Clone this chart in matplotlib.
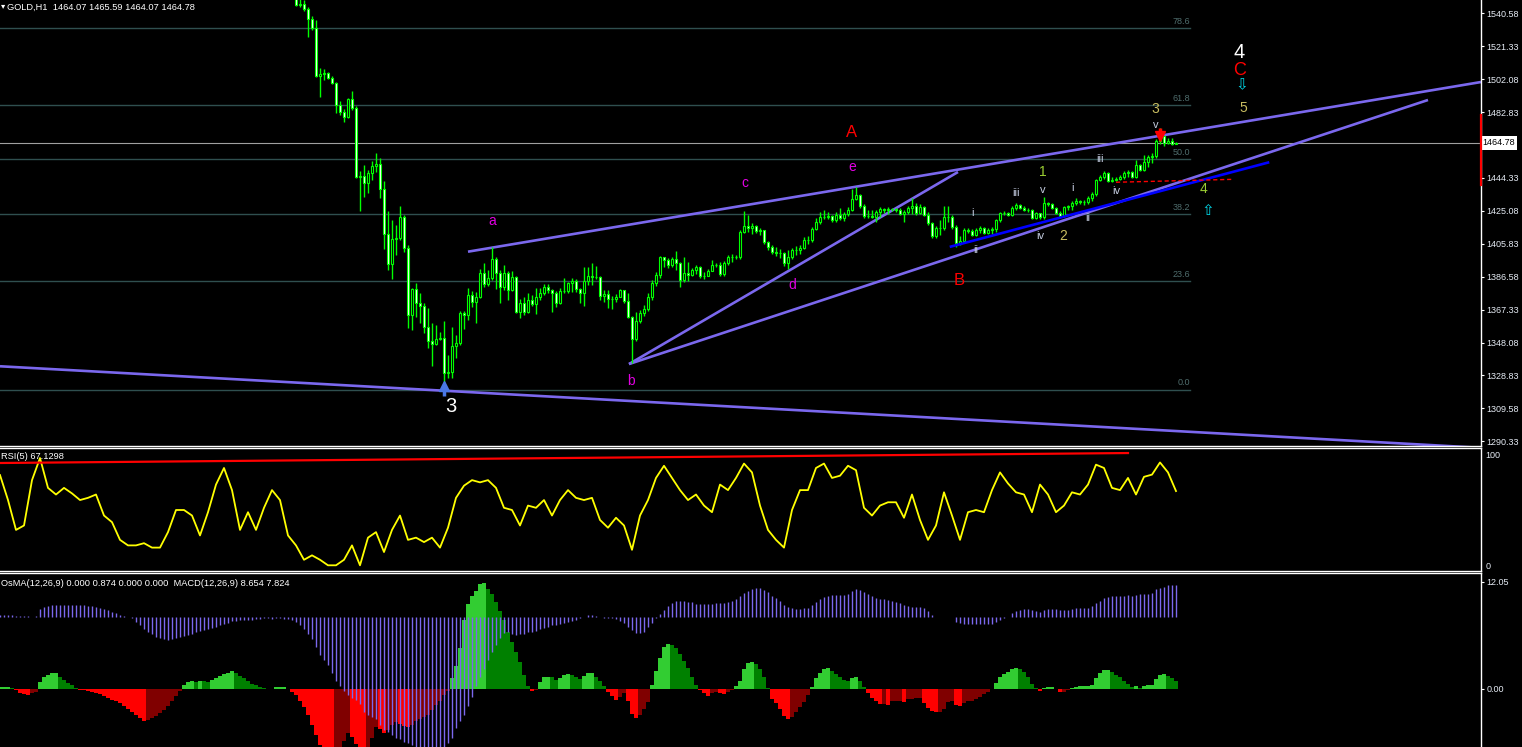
import numpy as np
import matplotlib.pyplot as plt
from matplotlib.transforms import blended_transform_factory

plt.rcParams['font.family'] = ['Liberation Sans', 'DejaVu Sans']

# ---------------- values ----------------
header = "GOLD,H1  1464.07 1465.59 1464.07 1464.78"
rsi_title = "RSI(5) 67.1298"
macd_title = "OsMA(12,26,9) 0.000 0.874 0.000 0.000  MACD(12,26,9) 8.654 7.824"
last_price = 1464.78

# H1 candles visible in the price window (bar index of the first one)
first_bar = 74
first_open = 1551.0
close = [
    1545.5, 1546.1, 1543.1, 1537.3, 1532.0, 1503.9, 1505.1, 1505.7, 1502.8, 1499.8,
    1487.0, 1482.9, 1480.0, 1490.5, 1485.2, 1444.9, 1445.4, 1441.3, 1447.2, 1451.3,
    1452.5, 1437.8, 1411.5, 1393.9, 1408.6, 1409.2, 1421.4, 1403.3, 1364.1, 1379.3,
    1371.2, 1369.4, 1357.1, 1348.9, 1347.2, 1350.1, 1350.7, 1330.2, 1330.8, 1346.0,
    1347.7, 1365.3, 1364.1, 1375.8, 1371.7, 1374.7, 1388.7, 1382.3, 1385.8, 1396.9,
    1388.7, 1380.5, 1388.7, 1378.7, 1386.4, 1365.9, 1371.1, 1365.9, 1372.9, 1370.6,
    1374.7, 1377.0, 1380.5, 1378.7, 1377.0, 1371.1, 1378.2, 1378.2, 1382.8, 1384.0,
    1379.3, 1377.0, 1384.0, 1386.9, 1386.4, 1386.4, 1375.2, 1376.4, 1373.5, 1373.5,
    1374.7, 1378.7, 1372.3, 1363.0, 1350.1, 1360.6, 1365.3, 1367.6, 1374.7, 1382.8,
    1387.5, 1398.1, 1396.3, 1393.4, 1396.9, 1394.5, 1384.6, 1388.7, 1387.5, 1390.4,
    1392.2, 1386.9, 1386.9, 1389.9, 1393.4, 1393.4, 1388.1, 1394.5, 1398.1, 1398.1,
    1398.1, 1412.7, 1416.2, 1415.0, 1416.2, 1413.3, 1413.9, 1406.8, 1403.9, 1401.0,
    1400.4, 1400.4, 1394.5, 1398.1, 1402.2, 1402.2, 1403.3, 1408.0, 1408.0, 1414.4,
    1418.5, 1421.4, 1421.4, 1422.0, 1419.7, 1422.6, 1420.9, 1423.2, 1425.5, 1432.0,
    1434.3, 1427.9, 1422.0, 1422.0, 1421.4, 1424.4, 1426.1, 1425.5, 1426.1, 1426.1,
    1425.5, 1423.2, 1424.4, 1426.7, 1427.9, 1423.8, 1427.3, 1422.6, 1418.0, 1410.3,
    1415.0, 1415.0, 1421.4, 1421.4, 1415.6, 1406.2, 1407.4, 1413.9, 1413.3, 1411.0,
    1413.9, 1415.0, 1412.1, 1413.9, 1414.4, 1419.7, 1423.8, 1423.8, 1422.6, 1426.7,
    1428.5, 1426.7, 1425.5, 1425.5, 1420.9, 1423.8, 1421.4, 1429.6, 1429.1, 1426.7,
    1423.8, 1422.0, 1427.3, 1427.9, 1429.6, 1430.8, 1430.2, 1430.2, 1432.6, 1434.9,
    1443.1, 1444.9, 1447.2, 1442.5, 1443.1, 1443.7, 1444.9, 1447.2, 1447.8, 1444.9,
    1451.9, 1449.0, 1453.6, 1456.6, 1457.1, 1465.9, 1468.8, 1464.7, 1465.9, 1464.07,
    1464.78,
]
high = [
    1551.3, 1550.2, 1548.4, 1544.3, 1539.0, 1536.7, 1508.6, 1508.0, 1506.3, 1503.9,
    1500.4, 1489.3, 1484.6, 1491.1, 1495.2, 1486.4, 1448.4, 1451.9, 1448.9, 1454.2,
    1458.9, 1456.0, 1442.5, 1425.0, 1419.7, 1416.8, 1427.9, 1422.6, 1405.1, 1379.9,
    1382.8, 1377.0, 1371.1, 1368.2, 1359.4, 1358.3, 1354.2, 1360.6, 1340.7, 1357.1,
    1352.4, 1366.5, 1366.5, 1379.9, 1378.2, 1377.6, 1391.0, 1394.5, 1390.4, 1403.9,
    1398.1, 1390.4, 1393.4, 1389.9, 1389.9, 1386.9, 1373.5, 1374.7, 1377.0, 1375.8,
    1379.9, 1379.9, 1382.3, 1382.3, 1379.3, 1378.2, 1379.9, 1385.8, 1383.4, 1385.8,
    1385.2, 1379.9, 1392.2, 1392.2, 1394.5, 1392.8, 1386.9, 1378.7, 1378.7, 1375.2,
    1376.4, 1379.3, 1378.7, 1377.0, 1363.5, 1365.9, 1367.0, 1370.0, 1377.0, 1384.6,
    1389.3, 1398.6, 1398.1, 1397.5, 1398.1, 1401.6, 1395.1, 1398.1, 1395.1, 1391.6,
    1393.4, 1392.8, 1389.3, 1391.0, 1396.3, 1394.5, 1395.1, 1395.7, 1399.2, 1399.8,
    1399.2, 1413.9, 1425.0, 1422.6, 1417.9, 1416.8, 1415.0, 1413.9, 1407.4, 1405.1,
    1403.9, 1402.7, 1401.0, 1402.2, 1403.3, 1404.5, 1405.1, 1409.8, 1410.3, 1415.6,
    1420.9, 1424.4, 1425.5, 1424.4, 1422.6, 1424.4, 1426.7, 1424.4, 1427.3, 1437.8,
    1439.0, 1434.9, 1429.1, 1425.5, 1425.5, 1425.5, 1427.3, 1426.7, 1427.3, 1426.7,
    1426.7, 1426.7, 1425.5, 1427.9, 1432.6, 1429.6, 1429.1, 1427.9, 1424.4, 1418.5,
    1416.2, 1419.7, 1427.9, 1427.9, 1422.6, 1416.8, 1410.3, 1415.0, 1415.0, 1414.4,
    1415.0, 1416.2, 1415.6, 1415.0, 1415.6, 1420.3, 1424.4, 1425.0, 1424.4, 1427.9,
    1429.6, 1429.1, 1427.9, 1426.7, 1426.1, 1424.4, 1423.8, 1433.2, 1430.2, 1429.6,
    1427.3, 1425.0, 1427.9, 1428.5, 1430.8, 1432.6, 1431.4, 1431.4, 1433.7, 1436.1,
    1443.7, 1446.0, 1448.4, 1447.8, 1444.9, 1444.9, 1446.0, 1448.4, 1448.9, 1448.4,
    1454.8, 1452.5, 1457.7, 1457.7, 1458.9, 1467.1, 1473.5, 1466.5, 1467.7, 1467.7,
    1465.59,
]
low = [
    1544.9, 1544.3, 1542.0, 1526.8, 1530.9, 1503.4, 1491.7, 1501.6, 1502.2, 1499.3,
    1482.3, 1481.1, 1477.0, 1479.4, 1484.1, 1444.3, 1425.0, 1433.2, 1435.5, 1443.1,
    1447.8, 1432.6, 1402.8, 1390.4, 1385.2, 1399.2, 1408.0, 1401.0, 1356.5, 1355.3,
    1363.0, 1359.4, 1353.6, 1344.8, 1334.3, 1346.6, 1349.5, 1320.8, 1327.3, 1327.3,
    1339.0, 1346.6, 1355.9, 1361.2, 1368.8, 1359.4, 1374.1, 1380.5, 1381.1, 1384.6,
    1379.3, 1371.1, 1378.7, 1372.9, 1378.2, 1365.3, 1362.4, 1364.1, 1365.3, 1369.4,
    1364.7, 1372.9, 1375.8, 1377.0, 1365.9, 1368.8, 1370.6, 1377.0, 1377.0, 1377.6,
    1377.6, 1371.1, 1369.4, 1381.7, 1381.7, 1385.2, 1372.9, 1371.7, 1368.2, 1367.6,
    1371.7, 1374.7, 1371.1, 1362.4, 1336.0, 1348.9, 1359.4, 1363.5, 1366.5, 1372.9,
    1381.1, 1385.8, 1392.2, 1391.6, 1392.2, 1390.4, 1380.5, 1383.4, 1384.0, 1386.9,
    1388.1, 1385.8, 1385.2, 1387.5, 1392.2, 1392.2, 1386.9, 1386.9, 1393.4, 1395.1,
    1396.9, 1396.9, 1412.1, 1412.7, 1411.5, 1412.1, 1410.9, 1405.7, 1402.2, 1399.8,
    1398.6, 1397.5, 1392.8, 1391.0, 1396.9, 1399.2, 1399.8, 1402.8, 1405.7, 1406.8,
    1413.9, 1417.4, 1420.3, 1420.3, 1418.5, 1418.5, 1419.7, 1419.1, 1422.0, 1425.0,
    1431.4, 1426.7, 1420.9, 1420.9, 1420.9, 1418.5, 1421.4, 1423.8, 1423.2, 1425.0,
    1424.4, 1422.6, 1418.5, 1423.2, 1423.2, 1422.6, 1423.2, 1422.0, 1416.8, 1409.2,
    1409.2, 1410.9, 1413.9, 1418.5, 1414.4, 1403.9, 1405.1, 1407.4, 1412.1, 1410.3,
    1410.3, 1412.1, 1411.5, 1411.5, 1411.5, 1412.7, 1418.5, 1422.6, 1422.0, 1422.0,
    1425.5, 1426.1, 1425.0, 1424.4, 1420.3, 1420.3, 1420.3, 1420.3, 1427.9, 1426.1,
    1423.2, 1421.4, 1421.4, 1425.5, 1425.5, 1428.5, 1429.1, 1428.5, 1429.1, 1430.8,
    1433.7, 1442.5, 1443.7, 1441.9, 1441.9, 1442.5, 1443.1, 1443.7, 1444.9, 1444.3,
    1444.3, 1448.4, 1448.4, 1450.7, 1453.0, 1456.0, 1464.2, 1463.0, 1464.2, 1463.6,
    1464.07,
]

price_ticks = [1540.58, 1521.33, 1502.08, 1482.83, 1444.33, 1425.08, 1405.83,
               1386.58, 1367.33, 1348.08, 1328.83, 1309.58, 1290.33]

fib_low, fib_high = 1320.6, 1589.8
fib_levels = [0.0, 23.6, 38.2, 50.0, 61.8, 78.6]

# trend lines as (bar0, price0, bar1, price1)
purple_lines = [
    (0, 1334.2, 370.25, 1286.5),
    (117, 1401.2, 370.25, 1500.4),
    (157.25, 1335.5, 239.5, 1447.8),
    (157.25, 1335.5, 357, 1489.9),
]
blue_line = (237.75, 1404.2, 317, 1453.3)
red_dash_line = (279, 1441.8, 308.25, 1443.5)

# wave labels as (text, bar, price)
big_labels = [("3", 112.75, 1310.4), ("4", 309.75, 1517.4)]
abc_labels = [("A", 213, 1470.6), ("B", 239.75, 1384.6), ("C", 310, 1506.9)]
abcde_labels = [("a", 123, 1419.1), ("b", 157.75, 1325.6), ("c", 186.25, 1441.4),
                ("d", 198, 1381.7), ("e", 213, 1450.7)]
impulse_labels = [("1", 260.75, 1447.8), ("2", 265.75, 1410.4), ("3", 288.75, 1484.6),
                  ("4", 300.75, 1437.9), ("5", 310.75, 1485.2)]
minor_labels = [("i", 243, 1423.8), ("ii", 244, 1402.2), ("iii", 254, 1435.5),
                ("iv", 260, 1410.4), ("v", 260.75, 1437.3), ("i", 268, 1438.4),
                ("ii", 272, 1420.9), ("iii", 275, 1455.4), ("iv", 279, 1436.7),
                ("v", 289, 1475.3)]

# RSI(5), read every second bar starting at bar 0
rsi_every2 = [
    81.6, 59, 32, 36, 77, 97, 70, 64, 70, 65,
    59, 61, 64, 45, 39, 23, 18, 18, 20, 16,
    16, 30, 50, 50, 45, 27, 48, 73, 88, 68,
    32, 48, 32, 52, 68, 59, 27, 18, 5, 9,
    5, 0, 0, 5, 18, 0, 25, 30, 12, 32,
    45, 23, 25, 21, 25, 16, 34, 61, 72, 77,
    75, 77, 70, 52, 50, 36, 54, 52, 59, 45,
    59, 68, 61, 59, 61, 41, 34, 43, 36, 14,
    45, 59, 79, 90, 79, 68, 59, 64, 54, 48,
    73, 68, 79, 92, 84, 54, 32, 23, 16, 50,
    68, 68, 88, 92, 79, 81, 90, 86, 52, 45,
    54, 57, 57, 43, 64, 41, 23, 36, 66, 45,
    23, 48, 50, 48, 68, 84, 74, 66, 64, 48,
    73, 64, 48, 54, 66, 64, 73, 91, 88, 70,
    68, 79, 64, 80, 82, 93, 84, 67.13,
]
rsi_trend = (0, 92.5, 282, 101.5)

osma = [
    0.2, 0.2, 0.2, 0.15, -0.1, -0.4, -0.6, -0.7, -0.4, -0.3,
    0.8, 1.3, 1.6, 1.8, 1.8, 1.4, 1.0, 0.7, 0.4, 0.1,
    -0.1, -0.15, -0.2, -0.3, -0.45, -0.6, -0.8, -1.05, -1.25, -1.4,
    -1.6, -1.9, -2.3, -2.6, -2.9, -3.3, -3.6, -3.5, -3.3, -3.0,
    -2.7, -2.4, -1.9, -1.4, -0.8, -0.2, 0.45, 0.8, 0.9, 0.8,
    0.9, 0.85, 0.8, 1.05, 1.2, 1.45, 1.65, 1.8, 2.0, 1.85,
    1.5, 1.2, 0.9, 0.6, 0.4, 0.2, 0.08, 0.05, 0.05, 0.2,
    0.2, 0.2, 0.05, -0.3, -0.7, -1.3, -2.0, -2.9, -4.0, -5.2,
    -6.3, -7.0, -7.5, -7.8, -7.0, -6.5, -5.8, -5.0, -5.4, -6.2,
    -7.0, -7.2, -6.5, -5.5, -4.3, -4.5, -5.0, -4.6, -4.0, -3.7,
    -3.9, -4.2, -4.3, -4.0, -3.6, -3.4, -3.2, -2.9, -2.4, -1.8,
    -1.3, -0.7, -0.25, 1.2, 2.6, 4.6, 7.8, 9.6, 10.5, 11.0,
    11.8, 11.9, 11.3, 10.7, 9.8, 8.8, 7.8, 6.4, 5.3, 4.2,
    3.0, 1.6, 0.3, -0.2, -0.15, 0.8, 1.4, 1.4, 1.3, 1.0,
    1.2, 1.6, 1.7, 1.6, 1.3, 1.1, 1.5, 1.8, 1.8, 1.4,
    0.9, 0.3, -0.3, -0.8, -1.2, -0.9, -0.5, -1.4, -2.8, -3.3,
    -2.9, -2.3, -1.5, 0.5, 2.0, 3.5, 4.7, 5.1, 5.0, 4.6,
    3.9, 3.2, 2.4, 1.3, 0.4, -0.1, -0.5, -0.8, -0.4, -0.35,
    -0.5, -0.6, -0.3, -0.1, 0.3, 0.9, 2.2, 2.9, 3.0, 2.8,
    2.3, 1.4, 0.1, -1.1, -1.6, -2.2, -3.0, -3.4, -3.1, -2.6,
    -2.0, -1.5, -0.7, 0.2, 1.2, 1.8, 2.3, 2.4, 2.0, 1.7,
    1.4, 1.0, 0.9, 1.2, 1.3, 0.9, 0.2, -0.4, -1.0, -1.4,
    -1.7, -1.7, -1.75, -1.4, -1.3, -1.3, -1.5, -1.1, -1.1, -1.05,
    -1.0, -1.6, -2.1, -2.5, -2.6, -2.6, -2.2, -1.5, -1.4, -1.8,
    -1.9, -1.6, -1.4, -1.3, -1.1, -0.9, -0.6, -0.3, 0.05, 0.7,
    1.4, 1.7, 1.9, 2.2, 2.4, 2.3, 1.9, 1.3, 0.6, 0.1,
    -0.2, 0.1, 0.2, 0.2, 0.05, -0.3, -0.3, -0.1, 0.1, 0.2,
    0.3, 0.3, 0.3, 0.5, 1.2, 1.8, 2.1, 2.1, 1.9, 1.6,
    1.3, 0.95, 0.6, 0.2, 0.3, 0.15, 0.3, 0.4, 0.5, 1.1,
    1.6, 1.65, 1.5, 1.2, 0.874,
]
macd = [
    0.6, 0.6, 0.5, 0.5, 0.4, 0.4, 0.3, 0.3, 0.2, 0.3,
    2.3, 2.8, 3.0, 3.2, 3.3, 3.3, 3.3, 3.3, 3.3, 3.3,
    3.2, 3.2, 3.1, 3.0, 2.8, 2.6, 2.3, 1.9, 1.5, 1.1,
    0.7, 0.4, 0.1, -0.3, -1.2, -2.2, -3.1, -3.9, -4.6, -5.2,
    -5.7, -6.0, -6.1, -5.9, -5.6, -5.3, -5.0, -4.7, -4.4, -4.1,
    -3.8, -3.5, -3.2, -2.9, -2.5, -2.1, -1.8, -1.5, -1.1, -0.9,
    -0.8, -0.7, -0.6, -0.6, -0.5, -0.4, -0.3, -0.3, -0.4, -0.3,
    -0.3, -0.4, -0.5, -0.8, -1.3, -2.2, -3.2, -4.5, -6.0, -8.0,
    -10.2, -11.6, -12.8, -15.0, -17.2, -18.6, -19.8, -21.0, -21.8, -22.3,
    -23.5, -25.5, -26.4, -27.0, -27.5, -29.0, -30.5, -31.0, -31.8, -32.5,
    -33.0, -33.6, -34.0, -34.5, -35.0, -35.5, -36.0, -36.0, -36.0, -36.0,
    -36.0, -35.0, -34.0, -32.5, -30.0, -28.0, -26.5, -24.0, -21.5, -18.5,
    -16.0, -14.0, -11.5, -9.3, -7.5, -5.6, -4.2, -4.0, -4.5, -4.8,
    -4.6, -4.4, -4.1, -3.9, -3.6, -3.2, -2.9, -2.6, -2.2, -2.0,
    -1.8, -1.5, -1.2, -0.9, -0.6, -0.3, 0.2, 0.5, 0.6, 0.4,
    0.1, -0.1, -0.2, -0.2, -0.5, -1.0, -1.5, -2.5, -3.5, -4.2,
    -4.3, -3.9, -2.7, -1.5, -0.3, 0.8, 2.0, 3.0, 3.8, 4.3,
    4.4, 4.3, 4.2, 4.0, 3.7, 3.6, 3.5, 3.6, 3.7, 3.8,
    3.9, 3.9, 4.0, 4.3, 5.0, 5.8, 6.6, 7.2, 7.6, 7.9,
    7.8, 7.3, 6.8, 5.8, 5.2, 4.4, 3.3, 2.8, 2.4, 2.2,
    2.2, 2.4, 2.6, 3.3, 4.0, 4.9, 5.5, 5.8, 6.0, 6.0,
    6.0, 6.1, 6.4, 7.1, 7.6, 7.3, 6.8, 6.2, 5.7, 5.3,
    4.9, 4.9, 4.6, 4.4, 4.0, 3.8, 3.3, 3.0, 2.9, 2.8,
    2.7, 2.4, 1.7, 0.6, 0.2, 0.2, 0.1, 0.0, 0.05, -1.2,
    -1.6, -1.7, -1.7, -1.9, -1.7, -1.7, -1.7, -1.7, -1.7, -1.2,
    -0.6, -0.3, 0.2, 1.1, 1.7, 2.0, 2.2, 2.2, 1.9, 1.8,
    1.5, 1.9, 2.2, 2.2, 2.2, 1.9, 2.0, 2.0, 2.2, 2.4,
    2.5, 2.5, 2.5, 3.1, 3.8, 4.4, 5.1, 5.4, 5.7, 5.7,
    5.7, 5.7, 6.0, 5.8, 6.0, 6.2, 6.3, 6.4, 6.6, 7.6,
    8.0, 8.3, 8.7, 8.7, 8.654,
]

# ---------------- layout (pixel boxes of the 1522x747 window) ----------------
W, H = 1522, 747
fig = plt.figure(figsize=(W / 100, H / 100), dpi=100, facecolor='black')


def box(x0, y0, x1, y1):
    return [x0 / W, 1 - y1 / H, (x1 - x0) / W, (y1 - y0) / H]


ax = fig.add_axes(box(0, 0, 1481, 446))
ax_rsi = fig.add_axes(box(0, 448, 1481, 571), sharex=ax)
ax_osma = fig.add_axes(box(0, 573, 1481, 747), sharex=ax)
ax_macd = ax_osma.twinx()

label_col = '#e6ecf5'
for a in (ax, ax_rsi, ax_osma):
    a.set_facecolor('black')
    for s in a.spines.values():
        s.set_color('white')
        s.set_linewidth(1)
    a.spines['left'].set_visible(False)
    a.yaxis.tick_right()
    a.tick_params(axis='y', colors='white', labelcolor=label_col, labelsize=6.5,
                  length=2.2, width=0.8, pad=1.5)
    a.tick_params(axis='x', bottom=False, labelbottom=False)
ax.spines['top'].set_visible(False)
ax_osma.spines['bottom'].set_visible(False)
for s in ax_macd.spines.values():
    s.set_visible(False)
ax_macd.set_yticks([])

ax.set_xlim(0, 1481 / 4)
ax.set_ylim(1287.58, 1548.36)
ax_rsi.set_ylim(-5.15, 106.06)
ax_osma.set_ylim(-6.53, 13.06)
ax_macd.set_ylim(-35.05, 11.97)

# ---------------- price window ----------------
close = np.array(close)
bars = np.arange(first_bar, first_bar + len(close))
opens = np.r_[first_open, close[:-1]]
hi = np.maximum(np.array(high), np.maximum(opens, close))
lo = np.minimum(np.array(low), np.minimum(opens, close))
bull = close >= opens

for lv in fib_levels:
    p = fib_low + (fib_high - fib_low) * lv / 100
    ax.plot([0, 297.5], [p, p], color='#2f4f4f', lw=1, zorder=1)
    ax.text(297.5, p + 1.2, f'{lv:.1f}', ha='right', va='bottom', color='#4f6d6d',
            fontsize=6.5, zorder=1)
ax.axhline(last_price, color='#a0a0a0', lw=0.8, zorder=1)

for x0, y0, x1, y1 in purple_lines:
    ax.plot([x0, x1], [y0, y1], color='#7b68ee', lw=1.9, zorder=2, solid_capstyle='butt')
ax.plot(blue_line[::2], blue_line[1::2], color='#0000ff', lw=1.9, zorder=4)
ax.plot(red_dash_line[::2], red_dash_line[1::2], color='#ff0000', lw=1, ls=(0, (3, 2)), zorder=4)

ax.vlines(bars, lo, hi, color='#00ff00', lw=1, zorder=3)
ax.bar(bars, np.abs(close - opens), bottom=np.minimum(opens, close), width=0.6,
       color=np.where(bull, 'black', 'white'), edgecolor='#00ff00', linewidth=0.8, zorder=3)

ax.set_yticks(price_ticks)
ax.set_yticklabels([f'{t:.2f}' for t in price_ticks])
tr = blended_transform_factory(ax.transAxes, ax.transData)
ax.text(1.0008, last_price, f'{last_price:.2f}', transform=tr, ha='left', va='center',
        fontsize=6.5, color='black', clip_on=False,
        bbox=dict(facecolor='white', edgecolor='none', pad=1.6))
ax.plot([1.0, 1.0], [1440.2, 1481.1], transform=tr, color='#ff0000', lw=1.6, clip_on=False, zorder=6)

# wave labels
for t, x, y in big_labels:
    ax.text(x, y, t, color='white', fontsize=14.5, ha='center', va='center', zorder=6)
for t, x, y in abc_labels:
    ax.text(x, y, t, color='#ff0000', fontsize=13 if t == 'C' else 12, ha='center', va='center', zorder=6)
for t, x, y in abcde_labels:
    ax.text(x, y, t, color='#e100e1', fontsize=10, ha='center', va='center', zorder=6)
for t, x, y in impulse_labels:
    ax.text(x, y, t, color='#9acd32' if t in ('1', '4') else '#c8bc60', fontsize=10,
            ha='center', va='center', zorder=6)
for t, x, y in minor_labels:
    ax.text(x, y, t, color='#c4cce0', fontsize=8, ha='center', va='center', zorder=6)

# arrows
ax.plot(110.9, 1322.5, marker='^', ms=7, color='#4a78e6', mec='#4a78e6', zorder=6)
ax.vlines(110.9, 1316.8, 1320.5, color='#4a78e6', lw=2.5, zorder=6)
ax.plot(290, 1469.1, marker='v', ms=7, color='#ff0000', mec='#ff0000', zorder=6)
ax.vlines(290, 1470.8, 1473.7, color='#ff0000', lw=2.5, zorder=6)
ax.text(310.5, 1498.7, '\u21e9', color='#00d8e8', fontsize=11, ha='center', va='center',
        family='DejaVu Sans', zorder=6)
ax.text(302, 1425.0, '\u21e7', color='#00d8e8', fontsize=11, ha='center', va='center',
        family='DejaVu Sans', zorder=6)

# ---------------- RSI window ----------------
rsi_bars = np.arange(0, 2 * len(rsi_every2), 2)
ax_rsi.plot(rsi_bars, rsi_every2, color='#ffff00', lw=1.3)
ax_rsi.plot(rsi_trend[::2], rsi_trend[1::2], color='#ff0000', lw=1.6)
ax_rsi.set_yticks([100, 0])
ax_rsi.set_yticklabels(['100', '0'])
ax_rsi.tick_params(axis='y', length=0, pad=3)

# ---------------- OsMA / MACD window ----------------
osma = np.array(osma)
ind_bars = np.arange(len(osma))
prev = np.r_[osma[0], osma[:-1]]
rising = osma >= prev
cols = np.where(osma >= 0, np.where(rising, '#32cd32', '#008000'),
                np.where(rising, '#800000', '#ff0000'))
ax_osma.bar(ind_bars, osma, width=1.0, color=cols, linewidth=0)
ax_macd.vlines(np.arange(len(macd)), 0, macd, color='#7b68ee', lw=1)
ax_osma.set_yticks([12.05, 0.0])
ax_osma.set_yticklabels(['12.05', '0.00'])

# ---------------- window titles ----------------
fig.text(1 / W, 1 - 6 / H, '\u25be', color='white', fontsize=6, va='center', family='DejaVu Sans')
fig.text(7 / W, 1 - 7 / H, header, color='white', fontsize=6.7, va='center')
fig.text(1 / W, 1 - 457 / H, rsi_title, color='white', fontsize=6.7, va='center')
fig.text(1 / W, 1 - 583 / H, macd_title, color='white', fontsize=6.7, va='center')

fig.savefig('out.png', dpi=100, facecolor='black')
